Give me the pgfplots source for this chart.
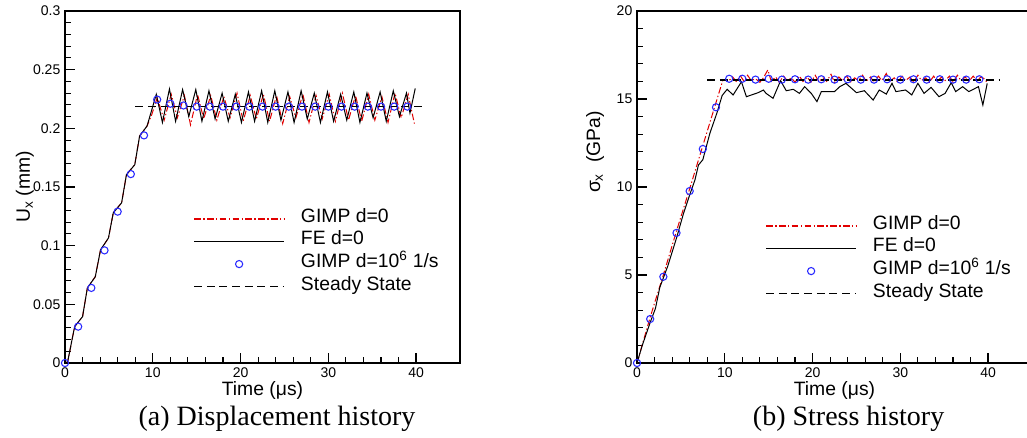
\documentclass[border=0pt]{standalone}
\usepackage{pgfplots}
\pgfplotsset{compat=1.18}
\usepackage{fontspec}
\setmainfont{Liberation Sans}
\newfontfamily\capfont{Liberation Serif}
\definecolor{gimpred}{RGB}{225,0,0}
\definecolor{circblue}{RGB}{40,40,255}
\newcommand\lblfont{\fontsize{14.5}{17}\selectfont}
\newcommand\tckfont{\fontsize{10.5}{12}\selectfont}
\pgfplotsset{
  legend image code/.code={\draw[mark repeat=2,mark phase=2,#1] plot coordinates {(0pt,0pt) (33.75pt,0pt) (67.5pt,0pt)};},
  myaxis/.style={
    scale only axis, width=296.25pt, height=264pt, anchor=south west,
    axis line style={line width=1.2pt},
    xmin=0, xmax=45, xtick={0,10,20,30,40}, xticklabels={0,10,20,30,40},
    minor x tick num=4, minor y tick num=4,
    xtick pos=bottom, ytick pos=left, tick align=inside,
    major tick length=7.5pt, minor tick length=4.5pt,
    major tick style={line width=1pt,black}, minor tick style={line width=0.8pt,black},
    xticklabel style={font=\tckfont}, yticklabel style={font=\tckfont},
    xlabel={Time (μs)},
    xlabel style={font=\lblfont, at={(axis description cs:0.5,-0.0795)}, anchor=center},
    legend cell align=left,
    legend style={draw=none, fill=none, inner sep=0pt, anchor=north west,
      font=\lblfont, column sep=12pt,
      nodes={inner sep=0pt, text height=11pt, text depth=5.9pt}},
  },
  redline/.style={draw=gimpred, color=gimpred, line width=0.75pt, dash pattern=on 5pt off 1.8pt on 1pt off 1.8pt,
    legend image code/.code={\draw[draw=gimpred, line width=0.8pt, dash pattern=on 5pt off 1.8pt on 1pt off 1.8pt] (0pt,0pt) -- (67.5pt,0pt);}},
  blackline/.style={draw=black, line width=0.75pt},
  circ/.style={only marks, mark=o, mark size=2.7pt, mark options={line width=0.8pt, draw=circblue}},
  steady/.style={draw=black, line width=1.3pt, dash pattern=on 6pt off 3.5pt},
}
\begin{document}
\begin{tikzpicture}
\useasboundingbox (0,0) rectangle (770.25pt,328.5pt);
% ---------- (a) displacement ----------
\begin{axis}[myaxis, at={(48.75pt,56.25pt)},
  ymin=0, ymax=0.3, ytick={0,0.05,0.1,0.15,0.2,0.25,0.3},
  yticklabels={0,0.05,0.1,0.15,0.2,0.25,0.3},
  ylabel={U\textsubscript{x} (mm)},
  ylabel style={font=\lblfont, at={(axis description cs:-0.1013,0.5)}, anchor=center},
  legend style={at={(axis description cs:0.324,0.4418)}}]
\addplot[redline] coordinates {
(0,0) (0.3,0.001) (1.1,0.031) (2.0,0.0395) (2.55,0.064) (3.45,0.0735) (4.05,0.0965) (4.95,0.1065)
(5.5,0.128) (6.45,0.1365) (7.0,0.1605) (7.95,0.169) (8.5,0.1935) (9.35,0.202) (9.9,0.212)
(10.5,0.226) (11.3,0.207) (12.1,0.229) (12.8,0.209) (13.6,0.228) (14.3,0.203) (15.1,0.229)
(15.8,0.208) (16.6,0.228) (17.3,0.207) (18.1,0.227) (18.8,0.209) (19.6,0.230) (20.3,0.206)
(21.1,0.228) (21.8,0.208) (22.6,0.229) (23.3,0.206) (24.1,0.228) (24.8,0.204) (25.6,0.227)
(26.3,0.209) (27.1,0.229) (27.8,0.205) (28.6,0.228) (29.3,0.208) (30.1,0.229) (30.8,0.206)
(31.6,0.230) (32.3,0.207) (33.1,0.228) (33.8,0.206) (34.6,0.229) (35.3,0.207) (36.1,0.227)
(36.8,0.205) (37.6,0.230) (38.3,0.209) (39.1,0.229) (39.8,0.204)};
\addlegendentry{GIMP d=0}
\addplot[blackline] coordinates {
(0,0) (0.3,0.001) (1.1,0.031) (2.0,0.0395) (2.55,0.064) (3.45,0.0735) (4.05,0.0965) (4.95,0.1065)
(5.5,0.128) (6.45,0.1365) (7.0,0.1605) (7.95,0.169) (8.5,0.1935) (9.35,0.202) (10.4,0.229)
(11.1,0.205) (11.9,0.2335) (12.6,0.206) (13.4,0.233) (14.1,0.210) (14.9,0.233) (15.6,0.206)
(16.4,0.232) (17.1,0.208) (17.9,0.230) (18.6,0.206) (19.4,0.229) (20.1,0.205) (20.9,0.231)
(21.6,0.206) (22.4,0.232) (23.1,0.205) (23.9,0.232) (24.6,0.207) (25.4,0.231) (26.1,0.205)
(26.9,0.232) (27.6,0.208) (28.4,0.230) (29.1,0.205) (29.9,0.231) (30.6,0.206) (31.4,0.229)
(32.1,0.207) (32.9,0.231) (33.6,0.205) (34.4,0.230) (35.1,0.209) (35.9,0.231) (36.6,0.206)
(37.4,0.232) (38.1,0.210) (38.9,0.230) (39.3,0.213) (39.9,0.234)};
\addlegendentry{FE d=0}
\addplot[circ] coordinates {
(0,0) (1.5,0.031) (3,0.064) (4.5,0.096) (6,0.129) (7.5,0.161) (9,0.194) (10.5,0.2245)
(12,0.221) (13.5,0.2195) (15,0.2185) (16.5,0.2185) (18,0.2185) (19.5,0.2185) (21,0.2185)
(22.5,0.2185) (24,0.2185) (25.5,0.2185) (27,0.2185) (28.5,0.2185) (30,0.2185) (31.5,0.2185)
(33,0.2185) (34.5,0.2185) (36,0.2185) (37.5,0.2185) (39,0.2185)};
\addlegendentry{GIMP d=10\textsuperscript{6} 1/s}
\addplot[steady] coordinates {(8,0.2185) (41,0.2185)};
\addlegendentry{Steady State}
\end{axis}
% ---------- (b) stress ----------
\begin{axis}[myaxis, at={(477.75pt,56.25pt)},
  ymin=0, ymax=20, ytick={0,5,10,15,20}, yticklabels={0,5,10,15,20},
  ylabel={σ\textsubscript{x}\ \ (GPa)},
  ylabel style={font=\lblfont, at={(axis description cs:-0.1063,0.599)}, anchor=center},
  legend style={at={(axis description cs:0.324,0.4219)}}]
\addplot[redline] coordinates {
(0,0) (1.5,2.6) (3.0,5.0) (4.5,7.5) (6.0,9.9) (7.5,12.35) (9.0,14.8) (9.8,16.1)
(10.4,16.0) (10.9,16.25) (11.3,16.0) (11.8,16.3) (12.2,16.0) (12.6,16.35) (13.0,16.05)
(13.5,16.15) (14.0,15.95) (14.4,16.2) (14.9,16.65) (15.3,16.0) (15.8,16.25) (16.2,15.95)
(16.7,16.3) (17.1,16.05) (17.6,16.2) (18.0,15.95) (18.5,16.3) (18.9,16.0) (19.4,16.25)
(19.8,15.95) (20.3,16.35) (20.7,16.0) (21.2,16.2) (21.6,16.0) (22.1,16.4) (22.5,15.95)
(23.0,16.25) (23.4,16.05) (23.9,16.3) (24.3,15.95) (24.8,16.2) (25.2,16.05) (25.7,16.35)
(26.1,16.0) (26.6,16.25) (27.0,15.95) (27.5,16.3) (27.9,16.05) (28.4,16.45) (28.8,16.0)
(29.3,16.2) (29.7,15.95) (30.2,16.3) (30.6,16.05) (31.1,16.25) (31.5,15.95) (32.0,16.35)
(32.4,16.05) (32.9,16.2) (33.3,15.95) (33.8,16.3) (34.2,16.0) (34.7,16.25) (35.1,16.05)
(35.6,16.3) (36.0,15.95) (36.5,16.35) (36.9,16.05) (37.4,16.25) (37.8,16.0) (38.3,16.3)
(38.7,16.05) (39.2,16.25) (39.6,16.15) (39.9,15.9)};
\addlegendentry{GIMP d=0}
\addplot[blackline] coordinates {
(0,0) (0.6,1.0) (1.5,2.3) (2.1,3.1) (2.6,4.3) (3.5,5.5) (4.5,7.1) (5.3,8.5) (6.0,9.55)
(6.6,10.4) (7.0,11.25) (7.5,11.55) (8.3,13.05) (9.1,14.2) (9.7,15.2) (10.27,15.55)
(10.95,15.23) (11.9,15.98) (12.46,15.13) (13.8,15.36) (14.4,15.51) (14.7,15.32) (15.5,15.04)
(16.36,16.04) (17.0,15.47) (17.8,15.55) (18.5,15.32) (19.1,15.7) (19.85,15.32) (20.5,14.85)
(21.0,15.42) (22.5,15.42) (23.1,15.7) (23.8,15.89) (25.0,15.36) (25.9,15.47) (26.9,14.94)
(27.6,15.51) (28.4,15.28) (29.05,15.89) (29.5,15.42) (30.6,15.51) (31.3,15.23) (32.0,15.89)
(32.7,15.32) (33.5,15.66) (34.4,15.13) (35.1,15.32) (35.8,15.93) (36.3,15.42) (37.1,15.7)
(37.8,15.42) (38.9,15.7) (39.4,14.66) (39.9,15.89)};
\addlegendentry{FE d=0}
\addplot[circ] coordinates {
(0,0) (1.5,2.5) (3,4.9) (4.5,7.39) (6,9.77) (7.5,12.16) (9,14.53) (10.5,16.15)
(12,16.15) (13.5,16.1) (15,16.15) (16.5,16.1) (18,16.12) (19.5,16.1) (21,16.12)
(22.5,16.1) (24,16.12) (25.5,16.1) (27,16.1) (28.5,16.12) (30,16.1) (31.5,16.12)
(33,16.1) (34.5,16.12) (36,16.1) (37.5,16.1) (39,16.12)};
\addlegendentry{GIMP d=10\textsuperscript{6} 1/s}
\addplot[steady] coordinates {(8,16.1) (41.3,16.1)};
\addlegendentry{Steady State}
\end{axis}
\node[font=\capfont\fontsize{21}{25}\selectfont] at (207.75pt,14.25pt) {(a) Displacement history};
\node[font=\capfont\fontsize{21}{25}\selectfont] at (636.45pt,14.25pt) {(b) Stress history};
\end{tikzpicture}
\end{document}
